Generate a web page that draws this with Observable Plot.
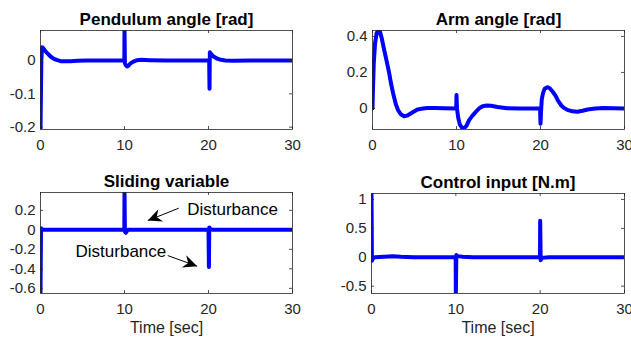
<!DOCTYPE html>
<html><head><meta charset="utf-8">
<script src="https://cdn.jsdelivr.net/npm/d3@7"></script>
<script src="https://cdn.jsdelivr.net/npm/@observablehq/plot@0.6"></script>
<style>
body{margin:0;background:#fff;}
#wrap{position:relative;width:631px;height:339px;overflow:hidden;font-family:"Liberation Sans",Arial,sans-serif;}
#wrap > div{position:absolute;}
</style></head><body><div id="wrap"></div>
<script>
// ---- data ----
const xTicks = [0, 10, 20, 30];

const pendT = [0, 0.1, 0.18, 0.3, 0.5, 0.8, 1.2, 1.6, 2.0, 2.4, 3.0, 3.6, 4.4, 5.5, 7, 9.98, 10.0, 10.05, 10.15, 10.3, 10.45, 10.7, 11.0, 11.5, 12, 13, 15, 20.08, 20.12, 20.16, 20.3, 20.6, 21.0, 21.5, 22, 23, 25, 30];
const pendV = [-0.21, 0.0, 0.04, 0.038, 0.031, 0.022, 0.012, 0.005, 0.001, -0.002, -0.002, -0.002, -0.001, 0, 0, 0, 0.1, -0.008, -0.014, -0.018, -0.016, -0.009, -0.004, 0.001, 0.002, 0.001, 0, 0, -0.085, 0.025, 0.02, 0.012, 0.006, 0.002, 0.0, -0.001, 0, 0];

const armT = [0, 0.05, 0.15, 0.3, 0.5, 0.7, 0.9, 1.1, 1.37, 1.7, 1.97, 2.2, 2.45, 2.77, 3.05, 3.36, 3.76, 4.1, 4.55, 5.0, 5.35, 6.0, 6.54, 7.5, 8.5, 9.97, 10.0, 10.06, 10.2, 10.4, 10.7, 10.9, 11.2, 11.5, 11.9, 12.3, 12.7, 13.1, 13.6, 14.1, 14.9, 16, 17.5, 19.95, 20.0, 20.06, 20.15, 20.3, 20.5, 20.8, 21.1, 21.5, 21.8, 22.1, 22.5, 22.8, 23.2, 23.8, 24.4, 25.0, 25.6, 26.5, 27.5, 30];
const armV = [0, 0.1, 0.25, 0.36, 0.42, 0.433, 0.425, 0.39, 0.33, 0.26, 0.2, 0.14, 0.085, 0.025, -0.01, -0.032, -0.043, -0.04, -0.028, -0.015, -0.006, 0.0, 0.002, 0.002, 0.001, 0, 0.075, 0.0, -0.05, -0.09, -0.11, -0.11, -0.095, -0.065, -0.04, -0.019, 0.0, 0.012, 0.016, 0.015, 0.008, 0.001, 0, 0, -0.085, -0.02, 0.05, 0.085, 0.11, 0.118, 0.112, 0.09, 0.07, 0.042, 0.015, 0.003, -0.008, -0.016, -0.018, -0.013, -0.006, 0.0, 0.002, 0];

const slideT = [0, 0.06, 0.1, 0.2, 9.98, 10.0, 10.05, 10.15, 10.4, 20.0, 20.05, 20.09, 20.2, 20.5, 30];
const slideV = [-0.66, 0.0, 0.015, 0.0, 0, 0.4, -0.02, -0.03, 0, 0, -0.38, 0.025, 0.01, 0, 0];

const ctrlT = [0, 0.05, 0.15, 0.4, 1.5, 2.5, 3.5, 5, 9.98, 10.0, 10.06, 10.2, 10.8, 12, 19.98, 20.0, 20.06, 20.2, 21, 30];
const ctrlV = [1.12, -0.06, -0.02, 0, 0.01, 0.02, 0.01, 0, 0, -0.65, 0.04, 0.02, 0.01, 0, 0, 0.63, -0.05, -0.01, 0, 0];

const annoText = ["Disturbance", "Disturbance"];
const annoX = [17.46, 4.17];
const annoY = [0.208, -0.22];
const arrowX1 = [16.46, 15.15], arrowY1 = [0.222, -0.264];
const arrowX2 = [12.77, 18.65], arrowY2 = [0.095, -0.373];

// ---- layout ----
const FONT = '"Liberation Sans", Arial, Helvetica, sans-serif';
const INK = "#262626";
const panels = [
  {title: "Pendulum angle [rad]", t: pendT, v: pendV, yDomain: [-0.207, 0.09], yTicks: [-0.2, -0.1, 0],
   left: 0, top: 0, width: 310, height: 165, mt: 30, mr: 18, mb: 36, ml: 40},
  {title: "Arm angle [rad]", t: armT, v: armV, yDomain: [-0.117, 0.433], yTicks: [0, 0.2, 0.4],
   left: 310, top: 0, width: 321, height: 165, mt: 30, mr: 7, mb: 36, ml: 62},
  {title: "Sliding variable", t: slideT, v: slideV, yDomain: [-0.653, 0.383], yTicks: [-0.6, -0.4, -0.2, 0, 0.2],
   left: 0, top: 165, width: 310, height: 174, mt: 27, mr: 18, mb: 46, ml: 40, xlabel: "Time [sec]", anno: true},
  {title: "Control input [N.m]", t: ctrlT, v: ctrlV, yDomain: [-0.626, 1.103], yTicks: [-0.5, 0, 0.5, 1],
   left: 310, top: 165, width: 321, height: 174, mt: 28, mr: 7, mb: 46, ml: 61, xlabel: "Time [sec]"}
];

// filled dart arrowhead, tip at origin pointing up
const dart = {draw(ctx) { const L = 14, w = 6.5; ctx.moveTo(0, 0); ctx.lineTo(-w, L); ctx.lineTo(0, L * 0.68); ctx.lineTo(w, L); ctx.closePath(); }};

const wrap = document.getElementById("wrap");
for (const p of panels) {
  const pw = p.width - p.ml - p.mr, ph = p.height - p.mt - p.mb;
  const data = p.t.map((t, i) => ({t, v: p.v[i]}));
  const marks = [
    Plot.line(data, {x: "t", y: "v", stroke: "#0000ff", strokeWidth: 4, clip: true, strokeLinejoin: "round", strokeLinecap: "round"}),
    Plot.frame({stroke: INK, strokeWidth: 0.8}),
    Plot.ruleX(xTicks, {x: d => d, insetTop: ph - 3, stroke: INK, strokeWidth: 0.8}),
    Plot.ruleX(xTicks, {x: d => d, insetBottom: ph - 3, stroke: INK, strokeWidth: 0.8}),
    Plot.ruleY(p.yTicks, {y: d => d, insetRight: pw - 3, stroke: INK, strokeWidth: 0.8}),
    Plot.ruleY(p.yTicks, {y: d => d, insetLeft: pw - 3, stroke: INK, strokeWidth: 0.8}),
    Plot.text([p.title], {text: d => d, frameAnchor: "top", lineAnchor: "bottom", dy: -6, fontWeight: "bold", fontSize: 17, fill: "#000"})
  ];
  if (p.xlabel) marks.push(Plot.text([p.xlabel], {text: d => d, frameAnchor: "bottom", lineAnchor: "bottom", dy: 39.5, fontSize: 16, fill: INK}));
  if (p.anno) {
    const kx = pw / 30, ky = ph / (p.yDomain[1] - p.yDomain[0]);
    const arrows = arrowX1.map((x1, i) => {
      const sdx = (arrowX2[i] - x1) * kx, sdy = -(arrowY2[i] - arrowY1[i]) * ky;
      return {x1, y1: arrowY1[i], x2: arrowX2[i], y2: arrowY2[i], rot: Math.atan2(sdx, -sdy) * 180 / Math.PI};
    });
    marks.push(
      Plot.link(arrows, {x1: "x1", y1: "y1", x2: "x2", y2: "y2", stroke: "#000", strokeWidth: 1}),
      Plot.dot(arrows, {x: "x2", y: "y2", symbol: dart, rotate: "rot", fill: "#000", stroke: "none", r: 4}),
      Plot.text(annoText.map((s, i) => ({s, x: annoX[i], y: annoY[i]})), {x: "x", y: "y", text: "s", textAnchor: "start", fontSize: 17, fill: "#000"})
    );
  }
  const svg = Plot.plot({
    width: p.width, height: p.height,
    marginTop: p.mt, marginRight: p.mr, marginBottom: p.mb, marginLeft: p.ml,
    style: {fontFamily: FONT, fontSize: "15px", color: INK, background: "transparent", overflow: "visible"},
    x: {domain: [0, 30], ticks: xTicks, tickSize: 0, tickPadding: 10, tickFormat: d => String(d), label: null},
    y: {domain: p.yDomain, ticks: p.yTicks, tickSize: 0, tickPadding: 5, tickFormat: d => String(d), label: null},
    marks
  });
  const div = document.createElement("div");
  div.style.left = p.left + "px"; div.style.top = p.top + "px";
  div.appendChild(svg);
  wrap.appendChild(div);
}
</script></body></html>
